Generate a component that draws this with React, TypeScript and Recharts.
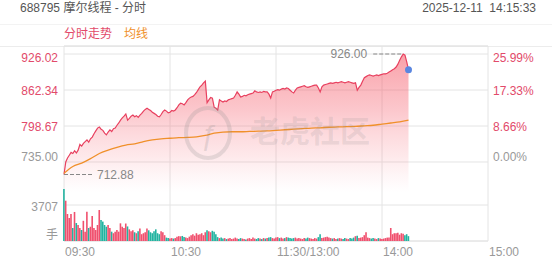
import React from 'react';
import { ComposedChart, Area, Line, Bar, Cell, XAxis, YAxis, CartesianGrid, ReferenceDot } from 'recharts';

const PREV_CLOSE = 735.0;
const TIME_TICKS = [0, 60, 120, 180, 240];
const TIME_LABELS = ['09:30', '10:30', '11:30/13:00', '14:00', '15:00'];
const PRICE_TICKS = [735.0, 798.67, 862.34, 926.02];
const PRICE_DOMAIN = [595.27, 940.17];
const VOL_TICKS = [0, 3707, 20080];
const VOL_DOMAIN = [0, 20080];

const PRICES = [
  712.88, 735, 742, 747, 752, 750, 755, 751, 756, 766,
  763, 768, 771, 774, 770, 776, 779, 785, 790, 795,
  797, 793, 791, 786, 783, 788, 792, 789, 794, 795,
  800, 804, 809, 813, 816, 820, 809, 812, 816, 818,
  815, 817, 814, 818, 821, 825, 828, 830, 828, 826,
  823, 821, 819, 816, 815, 819, 824, 827, 825, 822,
  823, 826, 825, 827, 831, 836, 839, 838, 836, 840,
  845, 848, 850, 851, 854, 858, 863, 868, 871, 875,
  878, 840, 845, 849, 848, 832, 830, 827, 845, 843,
  841, 843, 842, 845, 846, 847, 848, 853, 859, 855,
  850, 851, 853, 852, 854, 855, 856, 857, 861, 859,
  858, 859, 858, 860, 859, 859, 855, 848, 859, 860,
  862, 863, 862, 864, 865, 864, 866, 865, 862, 859,
  857, 862, 866, 867, 868, 869, 870, 868, 867, 868,
  869, 870, 871, 871, 866, 859, 868, 871, 872, 873,
  874, 875, 874, 875, 876, 875, 876, 877, 876, 875,
  876, 877, 876, 875, 874, 875, 862, 867, 871, 878,
  884, 886, 888, 889, 888, 887, 888, 889, 888, 889,
  890, 891, 891, 892, 894, 896, 898, 900, 903, 908,
  915, 921, 926, 924, 912, 898,
];

const VOLUMES = [
  5350, 4150, 2780, 2370, 2780, 1340, 2990, 1850, 1650, 1340,
  1130, 2080, 960, 3020, 1340, 1470, 2580, 1340, 1130, 1650,
  3190, 2160, 2000, 1650, 1470, 1650, 1340, 960, 800, 960,
  1130, 960, 1820, 1470, 1340, 1800, 1500, 1200, 1000, 1100,
  900, 800, 1000, 1300, 700, 800, 900, 1300, 1100, 900,
  800, 1000, 1200, 800, 700, 1000, 900, 600, 350, 300,
  250, 300, 250, 300, 450, 500, 480, 520, 400, 350,
  300, 450, 600, 700, 550, 800, 650, 700, 800, 600,
  900, 1100, 1000, 900, 1050, 950, 700, 400, 300, 350,
  250, 300, 200, 250, 300, 200, 250, 350, 250, 200,
  300, 250, 200, 150, 250, 300, 200, 350, 250, 200,
  300, 250, 200, 300, 250, 300, 350, 400, 300, 250,
  350, 400, 300, 350, 250, 300, 400, 350, 300, 250,
  300, 350, 250, 300, 250, 200, 300, 250, 350, 300,
  250, 200, 300, 250, 400, 700, 300, 350, 400, 450,
  350, 300, 250, 300, 200, 250, 300, 250, 200, 300,
  250, 200, 300, 250, 350, 500, 550, 300, 350, 400,
  600, 900, 350, 300, 250, 300, 250, 200, 300, 250,
  200, 250, 300, 350, 350, 1340, 700, 800, 800, 850,
  650, 800, 750, 600, 700, 500,
];

// average price line, one value every 5 minutes (last at minute 195)
const AVG_STEP = 5;
const AVG = [
  715, 727, 733, 741, 750, 756, 761, 765, 767, 771,
  774, 776, 777, 778, 778.5, 779.5, 782, 786, 788, 788.5,
  788.5, 789, 789.5, 790, 791, 792, 793, 794, 795, 795.5,
  796.5, 797, 797.5, 798, 799, 800, 802, 804, 806, 809,
];

const RED = '#e8405f';
const RED_TEXT = '#e24a6a';
const TEAL = '#22b3a0';
const GRAY_TEXT = '#999999';
const GRID = '#e4e4e4';
const ORANGE = '#f0902a';
const FONT = "Arial, 'Liberation Sans', 'Noto Sans CJK SC', sans-serif";

const data = PRICES.map((p, i) => ({
  m: i,
  price: p,
  vol: VOLUMES[i],
  avg: i % AVG_STEP === 0 ? AVG[i / AVG_STEP] : (i === PRICES.length - 1 ? AVG[AVG.length - 1] : null),
  up: i === 0 ? p >= PREV_CLOSE : p >= PRICES[i - 1],
}));

const maxPrice = Math.max(...PRICES);
const minPrice = Math.min(...PRICES);
const maxIdx = PRICES.indexOf(maxPrice);
const minIdx = PRICES.indexOf(minPrice);
const lastIdx = PRICES.length - 1;

const tickDy = (v: number) => (v === PRICE_TICKS[PRICE_TICKS.length - 1] ? 4 : v === PRICE_TICKS[0] ? -5 : 1);

const PriceTick = (props: any) => {
  const { y, payload } = props;
  const v = payload.value as number;
  return (
    <text x={58} y={y + tickDy(v)} textAnchor="end" dominantBaseline="central" fontSize={12} fontFamily={FONT}
      fill={v === PREV_CLOSE ? GRAY_TEXT : RED_TEXT}>
      {v.toFixed(2)}
    </text>
  );
};

const PctTick = (props: any) => {
  const { y, payload } = props;
  const v = payload.value as number;
  const pct = ((v / PREV_CLOSE - 1) * 100).toFixed(2) + '%';
  return (
    <text x={493} y={y + tickDy(v)} textAnchor="start" dominantBaseline="central" fontSize={12} fontFamily={FONT}
      fill={v === PREV_CLOSE ? GRAY_TEXT : RED_TEXT}>
      {pct}
    </text>
  );
};

const VolTick = (props: any) => {
  const { y, payload } = props;
  const v = payload.value as number;
  if (v === VOL_TICKS[2]) return <g />;
  return (
    <text x={58} y={v === 0 ? y - 6 : y + 2} textAnchor="end" dominantBaseline="central" fontSize={12} fontFamily={FONT} fill={GRAY_TEXT}>
      {v === 0 ? '手' : String(v)}
    </text>
  );
};

const TimeTick = (props: any) => {
  const { x, payload } = props;
  const idx = TIME_TICKS.indexOf(payload.value);
  return (
    <text x={x + 1} y={252} textAnchor="start" dominantBaseline="central" fontSize={12} fontFamily={FONT} fill={GRAY_TEXT}>
      {TIME_LABELS[idx]}
    </text>
  );
};

const MaxMark = (props: any) => {
  const { cx, cy } = props;
  return (
    <g>
      <line x1={cx - 30} y1={cy} x2={cx} y2={cy} stroke="#888" strokeWidth={1.2} strokeDasharray="4 2" />
      <text x={cx - 36} y={cy} textAnchor="end" dominantBaseline="central" fontSize={12} fontFamily={FONT} fill="#888">
        {maxPrice.toFixed(2)}
      </text>
    </g>
  );
};

const MinMark = (props: any) => {
  const { cx, cy } = props;
  return (
    <g>
      <line x1={cx} y1={cy} x2={cx + 28} y2={cy} stroke="#888" strokeWidth={1.2} strokeDasharray="4 2" />
      <text x={cx + 33} y={cy} textAnchor="start" dominantBaseline="central" fontSize={12} fontFamily={FONT} fill="#888">
        {minPrice.toFixed(2)}
      </text>
    </g>
  );
};

export default function App() {
  return (
    <div style={{ position: 'absolute', left: 0, top: 0, width: 552, height: 265, background: '#fff', fontFamily: FONT, overflow: 'hidden' }}>
      <div style={{ position: 'absolute', left: 20, top: 0, fontSize: 12, lineHeight: '16px', color: '#555' }}>688795 摩尔线程 - 分时</div>
      <div style={{ position: 'absolute', right: 16, top: 0, fontSize: 12, lineHeight: '16px', color: '#555', whiteSpace: 'pre' }}>2025-12-11  14:15:33</div>
      <div style={{ position: 'absolute', left: 0, top: 24, width: 552, height: 1, background: '#f3f3f3' }} />
      <div style={{ position: 'absolute', left: 64, top: 26, fontSize: 12, lineHeight: '16px', color: RED_TEXT }}>分时走势</div>
      <div style={{ position: 'absolute', left: 124, top: 26, fontSize: 12, lineHeight: '16px', color: ORANGE }}>均线</div>
      <div style={{ position: 'absolute', left: 0, top: 46, width: 552, height: 1, background: '#ececec' }} />
      <div style={{ position: 'absolute', left: 0, top: 0 }}>
        <ComposedChart width={552} height={265} data={data} margin={{ top: 46, right: 0, bottom: 0, left: 0 }}>
          <defs>
            <linearGradient id="priceFill" x1="0" y1="0" x2="0" y2="1">
              <stop offset="0" stopColor="#f4505f" stopOpacity={0.9} />
              <stop offset="0.3" stopColor="#f66472" stopOpacity={0.6} />
              <stop offset="0.55" stopColor="#f87c88" stopOpacity={0.28} />
              <stop offset="0.74" stopColor="#fa9aa4" stopOpacity={0} />
              <stop offset="1" stopColor="#ffffff" stopOpacity={0} />
            </linearGradient>
          </defs>
          <CartesianGrid yAxisId="price" stroke={GRID} vertical={false} />
          <CartesianGrid yAxisId="vol" stroke={GRID} />
          <XAxis dataKey="m" type="number" domain={[0, 240]} ticks={TIME_TICKS} height={24}
            axisLine={false} tickLine={false} tick={<TimeTick />} interval={0} />
          <YAxis yAxisId="price" orientation="left" width={32} domain={PRICE_DOMAIN} ticks={PRICE_TICKS}
            allowDataOverflow axisLine={false} tickLine={false} tick={<PriceTick />} interval={0} />
          <YAxis yAxisId="vol" orientation="left" width={32} domain={VOL_DOMAIN} ticks={VOL_TICKS}
            allowDataOverflow axisLine={false} tickLine={false} tick={<VolTick />} interval={0} />
          <YAxis yAxisId="pct" orientation="right" width={64} domain={PRICE_DOMAIN} ticks={PRICE_TICKS}
            allowDataOverflow axisLine={false} tickLine={false} tick={<PctTick />} interval={0} />
          <Bar yAxisId="vol" dataKey="vol" barSize={1.6} isAnimationActive={false}>
            {data.map((d, i) => (
              <Cell key={i} fill={d.up ? '#f0506e' : TEAL} />
            ))}
          </Bar>
          <Area yAxisId="price" type="linear" dataKey="price" stroke={RED} strokeWidth={1.2}
            fill="url(#priceFill)" dot={false} activeDot={false} isAnimationActive={false} />
          <Line yAxisId="price" type="monotone" dataKey="avg" stroke={ORANGE} strokeWidth={1.3}
            dot={false} activeDot={false} connectNulls isAnimationActive={false} />
          <ReferenceDot yAxisId="price" x={maxIdx} y={maxPrice} r={0} shape={<MaxMark />} />
          <ReferenceDot yAxisId="price" x={minIdx} y={minPrice} r={0} shape={<MinMark />} />
          <ReferenceDot yAxisId="price" x={lastIdx} y={PRICES[lastIdx]} r={3.5} fill="#5a86e0" stroke="none" />
        </ComposedChart>
      </div>
      <svg width={552} height={265} style={{ position: 'absolute', left: 0, top: 0, pointerEvents: 'none' }}>
        <ellipse cx={208} cy={133} rx={22} ry={25} fill="none" stroke="rgba(140,140,140,0.22)" strokeWidth={4} />
        <text x={208} y={134} textAnchor="middle" dominantBaseline="central" fontSize={30} fontStyle="italic"
          fontFamily={FONT} fill="rgba(140,140,140,0.22)">ƒ</text>
        <text x={250} y={131} textAnchor="start" dominantBaseline="central" fontSize={30} fontWeight="bold"
          fontFamily={FONT} fill="rgba(140,140,140,0.18)">老虎社区</text>
      </svg>
    </div>
  );
}
